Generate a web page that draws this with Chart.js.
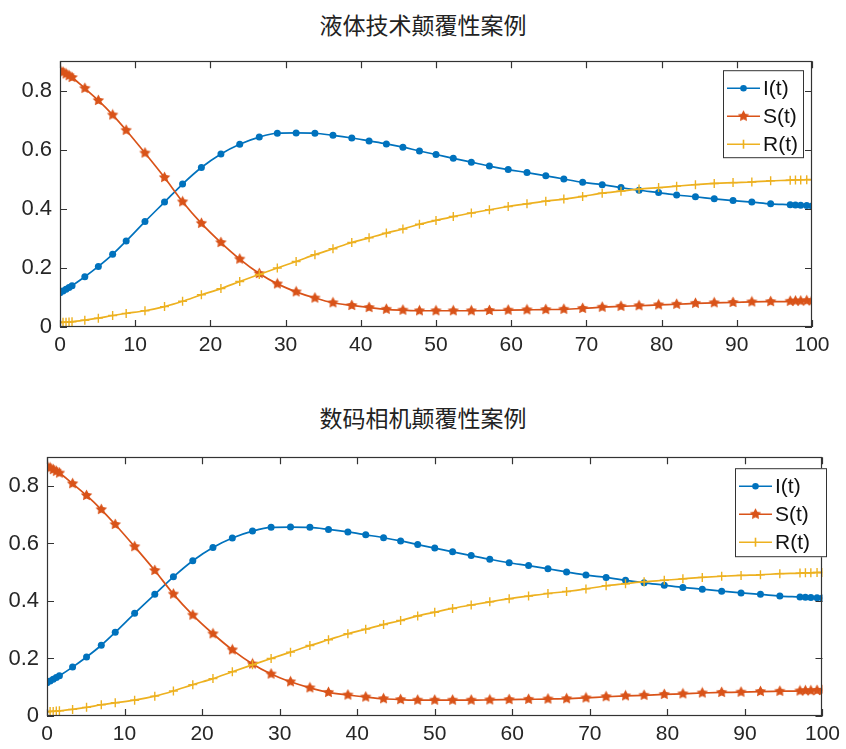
<!DOCTYPE html>
<html>
<head>
<meta charset="utf-8">
<script src="https://cdn.jsdelivr.net/npm/chart.js@4.4.1/dist/chart.umd.min.js"></script>
<style>
  body { margin:0; background:#fff; width:846px; height:749px; overflow:hidden; position:relative; }
  .ttl { position:absolute; left:0; width:846px; text-align:center; font-family:"Noto Sans CJK SC"; font-size:23px; line-height:32px; color:#222; }
  .box { position:absolute; left:0; width:846px; }
</style>
</head>
<body>
<div class="ttl" style="top:8px">液体技术颠覆性案例</div>
<div class="box" style="top:40px;height:330px"><canvas id="c1"></canvas></div>
<div class="ttl" style="top:401px">数码相机颠覆性案例</div>
<div class="box" style="top:436px;height:313px"><canvas id="c2"></canvas></div>

<script>
// solver time steps
var t = [0, 0.4, 0.8, 1.2, 1.6, 3.3, 5.1, 7.0, 8.8, 11.3, 13.9, 16.3, 18.8, 21.4, 23.9, 26.5, 28.9,
  31.4, 33.9, 36.3, 38.8, 41.1, 43.4, 45.6, 47.8, 50.0, 52.3, 54.7, 57.1, 59.6, 62.1, 64.6,
  67.0, 69.5, 72.1, 74.6, 77.0, 79.6, 82.0, 84.5, 87.0, 89.5, 92.0, 94.5, 97.1, 97.8, 98.5, 99.3, 100];

var It = [0.116, 0.122, 0.128, 0.134, 0.140, 0.170, 0.205, 0.246, 0.291, 0.357, 0.423, 0.484, 0.540, 0.586, 0.619, 0.643, 0.656,
  0.657, 0.656, 0.649, 0.640, 0.630, 0.620, 0.609, 0.596, 0.584, 0.571, 0.558, 0.545, 0.533, 0.523, 0.512,
  0.501, 0.490, 0.482, 0.472, 0.463, 0.455, 0.447, 0.441, 0.434, 0.428, 0.423, 0.417, 0.414, 0.413, 0.412, 0.411, 0.410];

var St = [0.869, 0.863, 0.857, 0.851, 0.845, 0.808, 0.767, 0.718, 0.666, 0.589, 0.506, 0.424, 0.351, 0.286, 0.230, 0.181, 0.146,
  0.119, 0.098, 0.082, 0.073, 0.066, 0.060, 0.057, 0.055, 0.055, 0.055, 0.055, 0.056, 0.057, 0.058, 0.059,
  0.060, 0.063, 0.067, 0.070, 0.072, 0.075, 0.077, 0.080, 0.082, 0.083, 0.085, 0.086, 0.087, 0.088, 0.088, 0.089, 0.089];

var Rt = [0.015, 0.016, 0.016, 0.017, 0.018, 0.023, 0.030, 0.039, 0.046, 0.055, 0.069, 0.087, 0.109, 0.130, 0.154, 0.178, 0.200,
  0.222, 0.245, 0.265, 0.286, 0.302, 0.318, 0.332, 0.348, 0.361, 0.374, 0.386, 0.397, 0.408, 0.417, 0.426,
  0.433, 0.442, 0.453, 0.460, 0.467, 0.472, 0.477, 0.482, 0.486, 0.489, 0.491, 0.495, 0.497, 0.498, 0.498, 0.499, 0.499];

var names = ['I(t)', 'S(t)', 'R(t)'];
var colors = ['#0072BD', '#D95319', '#EDB120'];

function starImg(color, size) {
  var c = document.createElement('canvas');
  c.width = size; c.height = size;
  var g = c.getContext('2d');
  var r = size / 2, ri = r * 0.48;
  g.beginPath();
  for (var i = 0; i < 10; i++) {
    var a = -Math.PI / 2 + i * Math.PI / 5;
    var rr = i % 2 ? ri : r - 0.5;
    g.lineTo(r + rr * Math.cos(a), r + rr * Math.sin(a));
  }
  g.closePath();
  g.fillStyle = color;
  g.fill();
  return c;
}
var star = starImg(colors[1], 13);

function pts(ys) {
  return t.map(function (x, i) { return { x: x, y: ys[i] }; });
}

// draws the matlab style box, inward ticks and the legend
var framePlugin = {
  id: 'frame',
  afterDatasetsDraw: function (chart, args, opts) {
    var a = chart.chartArea, ctx = chart.ctx;
    var xs = chart.scales.x, ys = chart.scales.y;
    ctx.save();
    ctx.strokeStyle = '#333';
    ctx.lineWidth = 1.2;
    ctx.strokeRect(Math.round(a.left) + 0.5, Math.round(a.top) + 0.5,
      Math.round(a.right - a.left) - 1, Math.round(a.bottom - a.top) - 1);
    ctx.beginPath();
    xs.ticks.forEach(function (tk) {
      var p = Math.round(xs.getPixelForValue(tk.value)) + 0.5;
      ctx.moveTo(p, a.bottom); ctx.lineTo(p, a.bottom - 7);
      ctx.moveTo(p, a.top); ctx.lineTo(p, a.top + 7);
    });
    ys.ticks.forEach(function (tk) {
      var p = Math.round(ys.getPixelForValue(tk.value)) + 0.5;
      ctx.moveTo(a.left, p); ctx.lineTo(a.left + 7, p);
      ctx.moveTo(a.right, p); ctx.lineTo(a.right - 7, p);
    });
    ctx.stroke();

    // legend
    var L = opts.legend;
    var bx = L.right - L.w, by = a.top + L.top;
    ctx.fillStyle = '#fff';
    ctx.fillRect(bx, by, L.w, L.h);
    ctx.strokeStyle = '#333';
    ctx.lineWidth = 1;
    ctx.strokeRect(bx + 0.5, by + 0.5, L.w - 1, L.h - 1);
    ctx.font = '21px "Liberation Sans"';
    ctx.textBaseline = 'middle';
    chart.data.datasets.forEach(function (ds, i) {
      var y = by + 18 + i * 28;
      var x0 = bx + 4, x1 = bx + 37, xm = (x0 + x1) / 2;
      ctx.strokeStyle = ds.borderColor;
      ctx.lineWidth = 1.6;
      ctx.beginPath(); ctx.moveTo(x0, y); ctx.lineTo(x1, y); ctx.stroke();
      if (i === 0) {
        ctx.fillStyle = ds.borderColor;
        ctx.beginPath(); ctx.arc(xm, y, 3.3, 0, Math.PI * 2); ctx.fill();
      } else if (i === 1) {
        ctx.drawImage(star, xm - 6.5, y - 6.5);
      } else {
        ctx.beginPath(); ctx.moveTo(xm, y - 4.5); ctx.lineTo(xm, y + 4.5); ctx.stroke();
      }
      ctx.fillStyle = '#111';
      ctx.fillText(ds.label, bx + 40, y + 1);
    });
    ctx.restore();
  }
};

function makeChart(id, yWidth, xHeight, padRight, legend) {
  return new Chart(document.getElementById(id), {
    type: 'line',
    data: {
      datasets: [
        { label: names[0], data: pts(It), borderColor: colors[0], backgroundColor: colors[0],
          borderWidth: 1.7, pointStyle: 'circle', pointRadius: 3.5, pointBorderWidth: 0, order: 2,
          cubicInterpolationMode: 'monotone' },
        { label: names[1], data: pts(St), borderColor: colors[1], backgroundColor: colors[1],
          borderWidth: 1.7, pointStyle: star, order: 1, cubicInterpolationMode: 'monotone' },
        { label: names[2], data: pts(Rt), borderColor: colors[2], backgroundColor: colors[2],
          borderWidth: 1.7, pointStyle: 'cross', pointRadius: 4.5, pointBorderWidth: 1.4, order: 0,
          cubicInterpolationMode: 'monotone' }
      ]
    },
    options: {
      responsive: true,
      maintainAspectRatio: false,
      animation: false,
      layout: { padding: { top: 7, right: padRight, left: 0, bottom: 0 } },
      plugins: {
        legend: { display: false },
        tooltip: { enabled: false },
        frame: { legend: legend }
      },
      scales: {
        x: {
          type: 'linear', min: 0, max: 100,
          grid: { display: false, drawTicks: false },
          border: { display: false },
          ticks: { stepSize: 10, padding: 6, color: '#262626', maxRotation: 0,
            font: { family: 'Liberation Sans', size: 21 } },
          afterFit: function (s) { s.height = xHeight; }
        },
        y: {
          min: 0, max: 0.9,
          grid: { display: false, drawTicks: false },
          border: { display: false },
          ticks: { stepSize: 0.2, includeBounds: false, padding: 8, color: '#262626',
            font: { family: 'Liberation Sans', size: 22 } },
          afterFit: function (s) { s.width = yWidth; }
        }
      }
    },
    plugins: [framePlugin]
  });
}

makeChart('c1', 60, 43, 34, { right: 804, top: 9, w: 81, h: 88 });
makeChart('c2', 47, 33, 20, { right: 827, top: 11, w: 92, h: 89 });
</script>
</body>
</html>
